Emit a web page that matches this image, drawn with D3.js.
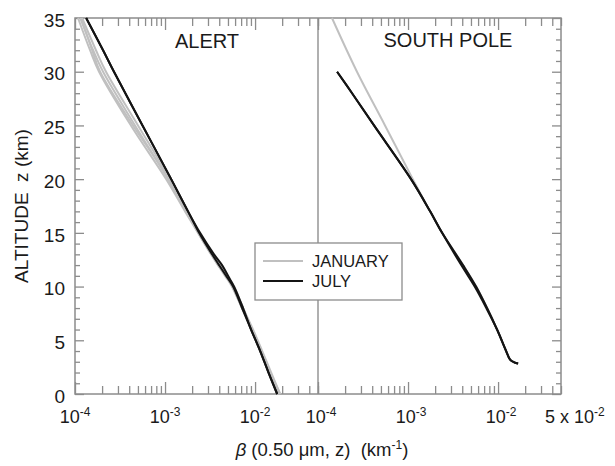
<!DOCTYPE html>
<html>
<head>
<meta charset="utf-8">
<script src="https://cdn.jsdelivr.net/npm/d3@7"></script>
<style>
  body { margin: 0; background: #fff; }
  text { font-family: "Liberation Sans", Arial, sans-serif; fill: #1a1a1a; white-space: pre; }
</style>
</head>
<body>
<svg id="chart" width="615" height="466"></svg>
<script>
// Altitude grids (km) for each station's profiles
const alertAlt = [35, 32, 30, 25, 20, 17, 15, 13, 12, 11, 10, 8, 6, 4, 2, 0];
const poleJanAlt = [35, 30, 25, 20, 17, 15, 12, 10, 8, 6, 4, 3.2, 2.95, 2.84];
const poleJulAlt = [30, 28, 25, 20, 17, 15, 12, 10, 8, 6, 4, 3.2, 2.95, 2.84];

// Extinction coefficient beta (km^-1), ALERT, January profiles
const alertJan1 = [1.08e-4, 1.47e-4, 1.85e-4, 4.18e-4, 1.03e-3, 1.67e-3, 2.33e-3, 3.25e-3, 3.88e-3, 4.64e-3, 5.55e-3, 7.17e-3, 9.26e-3, 1.17e-2, 1.47e-2, 1.85e-2];
const alertJan2 = [1.14e-4, 1.59e-4, 2.05e-4, 4.64e-4, 1.08e-3, 1.71e-3, 2.39e-3, 3.33e-3, 3.98e-3, 4.76e-3, 5.70e-3, 7.36e-3, 9.26e-3, 1.17e-2, 1.47e-2, 1.90e-2];
const alertJan3 = [1.17e-4, 1.55e-4, 1.90e-4, 4.41e-4, 1.11e-3, 1.76e-3, 2.33e-3, 3.25e-3, 3.88e-3, 4.76e-3, 5.55e-3, 7.17e-3, 9.26e-3, 1.17e-2, 1.47e-2, 1.85e-2];
const alertJan4 = [1.20e-4, 1.71e-4, 2.21e-4, 5.01e-4, 1.14e-3, 1.76e-3, 2.39e-3, 3.42e-3, 4.08e-3, 4.89e-3, 5.85e-3, 7.36e-3, 9.50e-3, 1.20e-2, 1.51e-2, 1.90e-2];
// ALERT, July profiles
const alertJul1 = [1.33e-4, 2.05e-4, 2.71e-4, 5.62e-4, 1.17e-3, 1.80e-3, 2.39e-3, 3.33e-3, 3.98e-3, 4.76e-3, 5.70e-3, 7.17e-3, 9.03e-3, 1.14e-2, 1.41e-2, 1.76e-2];
const alertJul2 = [1.33e-4, 2.05e-4, 2.71e-4, 5.62e-4, 1.17e-3, 1.80e-3, 2.45e-3, 3.50e-3, 4.30e-3, 5.01e-3, 5.85e-3, 7.36e-3, 9.03e-3, 1.14e-2, 1.41e-2, 1.76e-2];
// SOUTH POLE profiles (surface at 2.84 km)
const poleJan = [1.43e-4, 2.71e-4, 5.55e-4, 1.13e-3, 1.76e-3, 2.39e-3, 4.08e-3, 5.70e-3, 7.55e-3, 9.75e-3, 1.23e-2, 1.36e-2, 1.51e-2, 1.67e-2];
const poleJul1 = [1.63e-4, 2.39e-4, 4.19e-4, 1.08e-3, 1.76e-3, 2.39e-3, 4.08e-3, 5.70e-3, 7.55e-3, 9.75e-3, 1.23e-2, 1.36e-2, 1.51e-2, 1.67e-2];
const poleJul2 = [1.63e-4, 2.39e-4, 4.19e-4, 1.08e-3, 1.76e-3, 2.39e-3, 3.90e-3, 5.50e-3, 7.40e-3, 9.75e-3, 1.23e-2, 1.36e-2, 1.51e-2, 1.67e-2];

// Axis settings
const betaDomain = [1e-4, 5e-2];
const altDomain = [0, 35];
const majorBeta = [1e-4, 1e-3, 1e-2];
const majorAlt = [0, 5, 10, 15, 20, 25, 30, 35];
const panelTitles = ["ALERT", "SOUTH POLE"];
const seriesNames = ["JANUARY", "JULY"];

const colors = { jan: "#c0c0c0", jul: "#141414", frame: "#8c8c8c", divider: "#b0b0b0" };

const svg = d3.select("#chart");
const plot = { left: 75, right: 561, top: 18, bottom: 394 };
const mid = (plot.left + plot.right) / 2;

const y = d3.scaleLinear().domain(altDomain).range([plot.bottom, plot.top]);
const xA = d3.scaleLog().domain(betaDomain).range([plot.left, mid]);
const xS = d3.scaleLog().domain(betaDomain).range([mid, plot.right]);

const minorBeta = xA.ticks().filter(v => !majorBeta.some(m => Math.abs(m - v) / m < 1e-6));
const minorAlt = d3.range(0, 36, 1).filter(v => v % 5 !== 0);

// divider between panels
svg.append("line")
  .attr("x1", mid).attr("x2", mid).attr("y1", plot.top).attr("y2", plot.bottom)
  .attr("stroke", colors.divider).attr("stroke-width", 2);

// x ticks (top and bottom, pointing inward) for each panel
function xTicks(scale) {
  const defs = [
    [d3.axisBottom, plot.bottom, -12, majorBeta],
    [d3.axisBottom, plot.bottom, -8, minorBeta],
    [d3.axisTop, plot.top, -12, majorBeta],
    [d3.axisTop, plot.top, -8, minorBeta]
  ];
  defs.forEach(([axisFn, yPos, size, vals]) => {
    const g = svg.append("g").attr("transform", `translate(0,${yPos})`)
      .call(axisFn(scale).tickValues(vals).tickSize(size).tickFormat(""));
    g.select(".domain").remove();
    g.selectAll(".tick line").attr("stroke", colors.frame).attr("stroke-width", 1.3);
  });
}
xTicks(xA);
xTicks(xS);

// y ticks on both sides
[[d3.axisRight, plot.left], [d3.axisLeft, plot.right]].forEach(([axisFn, xPos]) => {
  [[majorAlt, 9], [minorAlt, 5]].forEach(([vals, size]) => {
    const g = svg.append("g").attr("transform", `translate(${xPos},0)`)
      .call(axisFn(y).tickValues(vals).tickSize(size).tickFormat(""));
    g.select(".domain").remove();
    g.selectAll(".tick line").attr("stroke", colors.frame).attr("stroke-width", 1.3);
  });
});

// plot frame
svg.append("rect")
  .attr("x", plot.left).attr("y", plot.top)
  .attr("width", plot.right - plot.left).attr("height", plot.bottom - plot.top)
  .attr("fill", "none").attr("stroke", colors.frame).attr("stroke-width", 1.5);

// profiles
function drawProfile(xScale, alts, values, color) {
  const line = d3.line()
    .x((d, i) => xScale(values[i]))
    .y(d => y(d))
    .curve(d3.curveCatmullRom.alpha(0.5));
  svg.append("path").datum(alts)
    .attr("d", line)
    .attr("fill", "none")
    .attr("stroke", color)
    .attr("stroke-width", 2)
    .attr("stroke-linejoin", "round");
}
[alertJan1, alertJan2, alertJan3, alertJan4].forEach(v => drawProfile(xA, alertAlt, v, colors.jan));
[alertJul1, alertJul2].forEach(v => drawProfile(xA, alertAlt, v, colors.jul));
drawProfile(xS, poleJanAlt, poleJan, colors.jan);
[poleJul1, poleJul2].forEach(v => drawProfile(xS, poleJulAlt, v, colors.jul));

// panel titles
svg.append("text").attr("x", 207).attr("y", 48)
  .attr("text-anchor", "middle").attr("font-size", 20).text(panelTitles[0]);
svg.append("text").attr("x", 448).attr("y", 47)
  .attr("text-anchor", "middle").attr("font-size", 20).text(panelTitles[1]);

// y tick labels
svg.append("g").selectAll("text").data(majorAlt).join("text")
  .attr("x", 65).attr("y", d => y(d) + 2).attr("dy", "0.35em")
  .attr("text-anchor", "end").attr("font-size", 19).text(d => d);

// x tick labels with superscript exponents
function powerLabel(xPos, v) {
  const t = svg.append("text").attr("x", xPos).attr("y", 423)
    .attr("text-anchor", "middle").attr("font-size", 18);
  t.append("tspan").text("10");
  t.append("tspan").attr("font-size", 12).attr("dy", -7).text("-" + Math.round(-Math.log10(v)));
}
majorBeta.forEach(v => powerLabel(xA(v), v));
majorBeta.forEach(v => powerLabel(xS(v) + 3, v));
{
  const t = svg.append("text").attr("x", 545).attr("y", 423).attr("font-size", 18);
  t.append("tspan").text("5 x 10");
  t.append("tspan").attr("font-size", 12).attr("dy", -7).text("-2");
}

// axis titles
svg.append("text")
  .attr("transform", "translate(28,206) rotate(-90)")
  .attr("text-anchor", "middle").attr("font-size", 19)
  .text("ALTITUDE  z (km)");

{
  const t = svg.append("text").attr("x", 322).attr("y", 456)
    .attr("text-anchor", "middle").attr("font-size", 18.5);
  t.append("tspan").attr("font-style", "italic").text("β");
  t.append("tspan").text(" (0.50 μm, z)  (km");
  t.append("tspan").attr("font-size", 12).attr("dy", -7).text("-1");
  t.append("tspan").attr("dy", 7).text(")");
}

// legend
const lg = svg.append("g");
lg.append("rect").attr("x", 255).attr("y", 243).attr("width", 147).attr("height", 57)
  .attr("fill", "#fff").attr("stroke", colors.frame).attr("stroke-width", 1.3);
[[colors.jan, seriesNames[0], 261], [colors.jul, seriesNames[1], 281]].forEach(([c, name, ly]) => {
  lg.append("line").attr("x1", 263).attr("x2", 303).attr("y1", ly).attr("y2", ly)
    .attr("stroke", c).attr("stroke-width", 2);
  lg.append("text").attr("x", 312).attr("y", ly + 6).attr("font-size", 16.5).text(name);
});
</script>
</body>
</html>
